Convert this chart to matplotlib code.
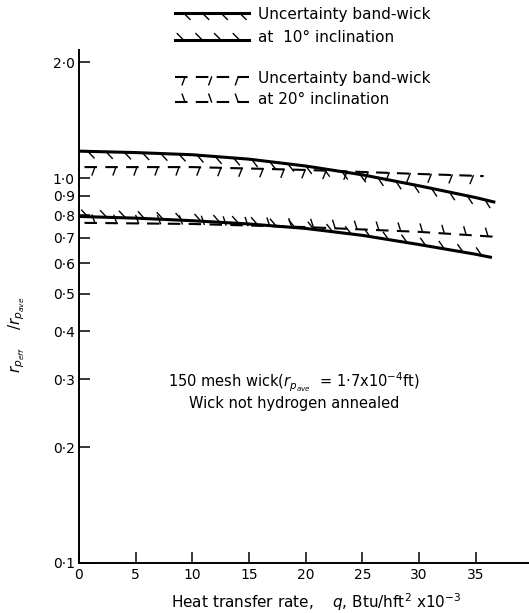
import matplotlib.pyplot as plt
from matplotlib import patheffects
from matplotlib.lines import Line2D

# wick at 10 deg inclination: upper and lower bounds of band
x10_hi = [0, 5, 10, 15, 20, 25, 30, 35, 36.6]
y10_hi = [1.175, 1.165, 1.15, 1.12, 1.075, 1.02, 0.955, 0.89, 0.867]
x10_lo = [0, 5, 10, 15, 20, 25, 30, 35, 36.3]
y10_lo = [0.795, 0.787, 0.775, 0.76, 0.74, 0.71, 0.672, 0.634, 0.623]

# wick at 20 deg inclination
x20_hi = [0.5, 10, 20, 30, 35.7]
y20_hi = [1.068, 1.068, 1.05, 1.025, 1.012]
x20_lo = [0.5, 10, 20, 30, 37]
y20_lo = [0.765, 0.76, 0.746, 0.725, 0.703]

yticks = [0.1, 0.2, 0.3, 0.4, 0.5, 0.6, 0.7, 0.8, 0.9, 1.0, 2.0]
ylabels = ["0·1", "0·2", "0·3", "0·4", "0·5", "0·6", "0·7", "0·8", "0·9", "1·0", "2·0"]
xticks = [0, 5, 10, 15, 20, 25, 30, 35]

plt.rcParams['font.family'] = 'DejaVu Sans'
fig = plt.figure(figsize=(5.29, 6.13), dpi=100)
ax = fig.add_axes([0.149, 0.0816, 0.851, 0.8366])


def ticks(angle, spacing=13, length=0.5):
    return [patheffects.TickedStroke(angle=angle, spacing=spacing, length=length)]


# solid bands (10 deg)
ax.plot(x10_hi, y10_hi, color='black', lw=2.2)
ax.plot(x10_hi, y10_hi, color='black', lw=1.0, path_effects=ticks(-45))
ax.plot(x10_lo, y10_lo, color='black', lw=2.2)
ax.plot(x10_lo, y10_lo, color='black', lw=1.0, path_effects=ticks(135))

# dashed bands (20 deg)
ax.plot(x20_hi, y20_hi, color='black', lw=1.5, ls=(0, (6, 4)))
ax.plot(x20_hi, y20_hi, color='black', lw=1.0, path_effects=ticks(-110, 15, 0.4))
ax.plot(x20_lo, y20_lo, color='black', lw=1.5, ls=(0, (6, 4)))
ax.plot(x20_lo, y20_lo, color='black', lw=1.0, path_effects=ticks(110, 15, 0.4))

ax.set_yscale('log')
ax.set_xlim(0, 39.7)
ax.set_ylim(0.1, 2.15)
ax.set_yticks(yticks)
ax.set_yticklabels(ylabels)
ax.yaxis.set_minor_locator(plt.NullLocator())
ax.set_xticks(xticks)
ax.tick_params(axis='both', direction='in', length=8, width=1.1, labelsize=10, color='black')
ax.tick_params(axis='y', pad=3)
for s in ['top', 'right']:
    ax.spines[s].set_visible(False)
for s in ['left', 'bottom']:
    ax.spines[s].set_linewidth(1.4)

fig.text(316 / 529, 1 - 602 / 613, r"Heat transfer rate,    $q$, Btu/hft$^2$ x10$^{-3}$",
         fontsize=11, ha='center', va='center')
fig.text(17 / 529, 1 - 335 / 613, r"$r_{p_{eff}}$    /$r_{p_{ave}}$", fontsize=11,
         rotation=90, ha='center', va='center')

ax.text(19, 0.294, r"150 mesh wick($r_{p_{ave}}$  = 1·7x10$^{-4}$ft)", ha='center', va='center', fontsize=10.5)
ax.text(19, 0.259, "Wick not hydrogen annealed", ha='center', va='center', fontsize=10.5)

# key drawn above the plot
def key(y, ls, lw, angle, sp=13, ln=0.5):
    xs = [0.33, 0.47]
    fig.add_artist(Line2D(xs, [y, y], color='black', lw=lw, ls=ls))
    fig.add_artist(Line2D(xs, [y, y], color='black', lw=1.0,
                          path_effects=ticks(angle, sp, ln)))

key(1 - 13 / 613, '-', 2.2, -45)
key(1 - 40 / 613, '-', 2.2, 135)
key(1 - 77 / 613, (0, (6, 4)), 1.5, -110, 15, 0.4)
key(1 - 102 / 613, (0, (6, 4)), 1.5, 110, 15, 0.4)
fig.text(0.488, 1 - 15 / 613, "Uncertainty band-wick", fontsize=11, va='center')
fig.text(0.488, 1 - 37 / 613, "at  10° inclination", fontsize=11, va='center')
fig.text(0.488, 1 - 78 / 613, "Uncertainty band-wick", fontsize=11, va='center')
fig.text(0.488, 1 - 100 / 613, "at 20° inclination", fontsize=11, va='center')

fig.savefig("out.png", dpi=100)
